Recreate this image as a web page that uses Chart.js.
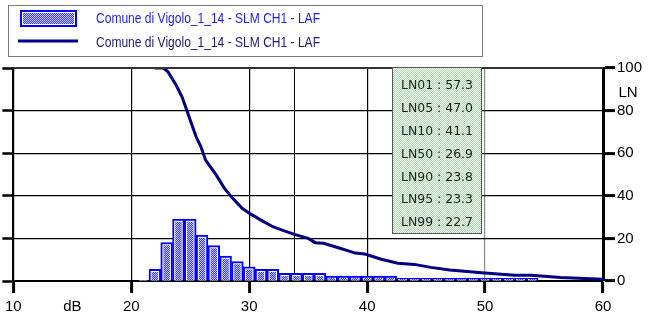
<!DOCTYPE html>
<html>
<head>
<meta charset="utf-8">
<script src="https://cdn.jsdelivr.net/npm/chart.js@4/dist/chart.umd.min.js"></script>
<style>
  html, body { margin: 0; padding: 0; background: #fff; }
  #wrap { width: 653px; height: 320px; }
</style>
</head>
<body>
<div id="wrap"><canvas id="chart" width="653" height="320"></canvas></div>
<script>
const seriesName = 'Comune di Vigolo_1_14 - SLM CH1 - LAF';

// histogram, 1 dB classes (% of time)
const binDb = [21, 22, 23, 24, 25, 26, 27, 28, 29, 30, 31, 32, 33, 34, 35, 36, 37,
               38, 39, 40, 41, 42, 43, 44, 45, 46, 47, 48, 49, 50, 51, 52, 53, 54];
const binPercent = [0.3, 5.5, 18.0, 29.1, 29.1, 21.6, 16.6, 11.7, 9.1, 6.7, 5.5, 5.5, 3.6, 3.6, 3.6, 3.6, 2.3,
                    2.3, 2.3, 2.3, 2.3, 2.3, 1.3, 1.3, 1.3, 1.3, 1.3, 1.3, 1.3, 1.3, 1.3, 1.3, 1.3, 1.3];

// cumulative curve (LN, % exceeded)
const cumDb = [22.0, 22.7, 23.1, 23.8, 24.3, 24.7, 25.1, 25.5, 25.9, 26.3, 26.8, 27.2, 27.9, 28.6,
               29.4, 30.1, 31.0, 32.0, 32.8, 33.9, 35.0, 35.6, 36.3, 37.7, 39.0, 39.8, 41.2, 42.6,
               44.0, 45.4, 47.0, 49.7, 52.5, 53.9, 56.4, 60.0];
const cumPercent = [100, 100, 98.3, 92.0, 86.5, 80.3, 74.0, 67.7, 63.1, 56.8, 52.9, 49.8, 43.5, 38.8,
                    34.1, 31.5, 28.6, 25.5, 23.9, 21.8, 20.0, 18.0, 17.7, 15.4, 13.1, 12.7, 10.2, 8.3,
                    7.8, 6.4, 5.2, 3.9, 2.7, 2.7, 1.7, 0.8];

const lnLabels = ['LN01', 'LN05', 'LN10', 'LN50', 'LN90', 'LN95', 'LN99'];
const lnValues = [57.3, 47.0, 41.1, 26.9, 23.8, 23.3, 22.7];

const xTicks = [10, 20, 30, 40, 50, 60];
const yTicks = [0, 20, 40, 60, 80, 100];
const cursorDb = 33.8;

const canvas = document.getElementById('chart');
const ctx = canvas.getContext('2d');

function checker(c1, c2) {
    const p = document.createElement('canvas');
    p.width = 2; p.height = 2;
    const g = p.getContext('2d');
    g.fillStyle = c1; g.fillRect(0, 0, 2, 2);
    g.fillStyle = c2; g.fillRect(0, 0, 1, 1); g.fillRect(1, 1, 1, 1);
    return ctx.createPattern(p, 'repeat');
}
const barFill = checker('#3c3cff', '#c4c4ff');
const boxFill = checker('#b4dcb4', '#eef8ee');

const extras = {
    id: 'extras',
    beforeDatasetsDraw(chart) {
        const { ctx, chartArea: a, scales } = chart;
        ctx.save();
        // cursor line
        const cx = Math.round(scales.x.getPixelForValue(cursorDb)) + 0.5;
        ctx.strokeStyle = '#000';
        ctx.lineWidth = 1;
        ctx.beginPath(); ctx.moveTo(cx, a.top); ctx.lineTo(cx, a.bottom); ctx.stroke();
        ctx.restore();
    },
    afterDatasetsDraw(chart) {
        const { ctx, chartArea: a, scales } = chart;
        ctx.save();
        // top border
        ctx.strokeStyle = '#333';
        ctx.lineWidth = 2;
        ctx.beginPath(); ctx.moveTo(a.left - 1, a.top); ctx.lineTo(a.right, a.top); ctx.stroke();

        // LN box
        const bx = 392.5, by = 67.5, bw = 89, bh = 166;
        ctx.fillStyle = boxFill;
        ctx.fillRect(bx, by, bw, bh);
        ctx.strokeStyle = '#555';
        ctx.lineWidth = 1;
        ctx.strokeRect(bx, by, bw, bh);
        ctx.fillStyle = '#222';
        ctx.font = '13px "DejaVu Sans"';
        ctx.textBaseline = 'middle';
        ctx.textAlign = 'left';
        lnLabels.forEach((l, i) => {
            ctx.fillText(l + ' : ' + lnValues[i].toFixed(1), 401, 86 + i * 22.8, 72);
        });

        // axis captions
        ctx.fillStyle = '#000';
        ctx.font = '15px "Liberation Sans"';
        ctx.textAlign = 'center';
        ctx.fillText('dB', scales.x.getPixelForValue(15), 307);
        ctx.fillText('LN', 628, scales.y.getPixelForValue(88.5));

        // legend
        ctx.strokeStyle = '#7a7a7a';
        ctx.lineWidth = 1;
        ctx.strokeRect(8.5, 5.5, 474, 51);
        ctx.fillStyle = '#0000ff';
        ctx.fillRect(20, 10, 57, 17);
        ctx.fillStyle = '#fff';
        ctx.fillRect(22, 12, 53, 13);
        ctx.fillStyle = barFill;
        ctx.fillRect(23, 13, 51, 11);
        ctx.strokeStyle = '#000080';
        ctx.lineWidth = 3;
        ctx.beginPath(); ctx.moveTo(18, 41); ctx.lineTo(78, 41); ctx.stroke();
        ctx.font = '15px "Liberation Sans"';
        ctx.textAlign = 'left';
        ctx.fillStyle = '#1c1cf0';
        ctx.fillText(chart.data.datasets[0].label, 96, 19, 224);
        ctx.fillStyle = '#1a1a78';
        ctx.fillText(chart.data.datasets[2].label, 96, 43, 224);
        ctx.restore();
    }
};

Chart.defaults.font.family = '"Liberation Sans", Arial, sans-serif';
Chart.defaults.color = '#000';

const binPoints = binDb.map((d, i) => ({ x: d, y: binPercent[i] }));

new Chart(ctx, {
    type: 'bar',
    data: {
        datasets: [{
            // outline: blue border with white inner edge
            type: 'bar',
            label: seriesName,
            data: binPoints,
            backgroundColor: '#fff',
            borderColor: '#0000ff',
            borderWidth: 2,
            barPercentage: 1,
            categoryPercentage: 1,
            grouped: false,
            yAxisID: 'y',
            order: 3
        }, {
            // hatched fill
            type: 'bar',
            label: seriesName,
            data: binPoints,
            backgroundColor: barFill,
            borderColor: 'rgba(0,0,0,0)',
            borderWidth: 3,
            barPercentage: 1,
            categoryPercentage: 1,
            grouped: false,
            yAxisID: 'y',
            order: 2
        }, {
            type: 'line',
            label: seriesName,
            data: cumDb.map((d, i) => ({ x: d, y: cumPercent[i] })),
            borderColor: '#000080',
            borderWidth: 3,
            pointRadius: 0,
            tension: 0,
            fill: false,
            yAxisID: 'y',
            order: 1
        }]
    },
    options: {
        responsive: false,
        animation: false,
        layout: { padding: { top: 68, left: 0, right: 0, bottom: 0 } },
        plugins: { legend: { display: false }, tooltip: { enabled: false } },
        scales: {
            x: {
                type: 'linear',
                min: 10, max: 60,
                offset: false,
                afterBuildTicks: s => { s.ticks = xTicks.map(v => ({ value: v })); },
                afterFit: s => { s.height = 39; },
                grid: {
                    offset: false,
                    color: c => c.tick && c.tick.value === 50 ? '#8a8a8a' : '#000',
                    lineWidth: 1.2,
                    tickLength: 12,
                    tickWidth: 3,
                    tickColor: '#000'
                },
                border: { display: true, color: '#000', width: 2 },
                ticks: { font: { size: 15 }, padding: 5, maxRotation: 0 }
            },
            y: {
                position: 'right',
                min: 0, max: 100,
                afterBuildTicks: s => { s.ticks = yTicks.map(v => ({ value: v })); },
                afterFit: s => { s.width = 50; },
                grid: {
                    color: '#000',
                    lineWidth: 1.2,
                    tickLength: 12,
                    tickWidth: 3,
                    tickColor: '#000'
                },
                border: { display: true, color: '#000', width: 3 },
                ticks: { font: { size: 15 }, padding: 2 }
            },
            yL: {
                position: 'left',
                min: 0, max: 100,
                afterBuildTicks: s => { s.ticks = yTicks.map(v => ({ value: v })); },
                afterFit: s => { s.width = 11; },
                grid: {
                    drawOnChartArea: false,
                    tickLength: 11,
                    tickWidth: 2.5,
                    tickColor: '#000'
                },
                border: { display: true, color: '#000', width: 2 },
                ticks: { display: false }
            }
        }
    },
    plugins: [extras]
});
</script>
</body>
</html>
